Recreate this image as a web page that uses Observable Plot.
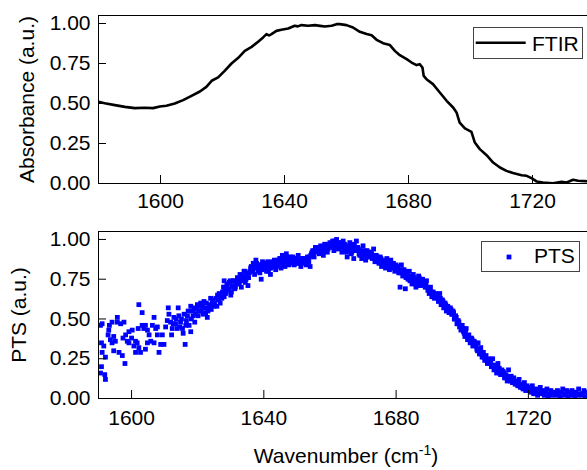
<!DOCTYPE html>
<html><head><meta charset="utf-8">
<script src="https://cdn.jsdelivr.net/npm/d3@7"></script>
<script src="https://cdn.jsdelivr.net/npm/@observablehq/plot@0.6"></script>
<style>
html,body{margin:0;padding:0;background:#fff;overflow:hidden;}
#wrap{width:587px;height:470px;overflow:hidden;position:relative;}
#wrap svg{max-width:none !important;display:block;}
</style></head><body><div id="wrap"></div>
<script>
// FTIR absorbance spectrum: [wavenumber (cm-1), absorbance]
const ftirPoints = [
[1580,0.511],[1582.0,0.502],[1585.3,0.490],[1588.5,0.479],[1591.7,0.471],[1594.9,0.473],[1597.6,0.471],[1599.8,0.481],
[1601.9,0.486],[1604.6,0.500],[1607.3,0.521],[1610.0,0.548],[1612.7,0.575],[1614.8,0.604],[1616.5,0.642],[1618.6,0.663],
[1620.7,0.704],[1622.9,0.750],[1625.0,0.784],[1627.2,0.829],[1629.4,0.854],[1631.5,0.886],[1633.1,0.913],[1634.2,0.934],
[1635.0,0.925],[1635.8,0.934],[1637.4,0.954],[1639.0,0.961],[1641.2,0.969],[1643.3,0.986],[1644.3,0.982],[1645.5,0.990],
[1647.6,0.986],[1649.8,0.990],[1651.5,0.985],[1653.0,0.981],[1655.2,0.986],[1656.8,0.996],[1657.8,0.996],[1660.0,0.990],
[1662.1,0.975],[1664.3,0.948],[1666.5,0.934],[1668.1,0.927],[1669.7,0.898],[1671.8,0.877],[1674.0,0.865],[1675.6,0.829],
[1677.2,0.802],[1679.4,0.777],[1681.0,0.756],[1682.6,0.740],[1683.6,0.746],[1684.5,0.725],[1684.9,0.673],[1685.8,0.652],
[1687.9,0.621],[1690.1,0.569],[1692.3,0.517],[1694.4,0.475],[1695.5,0.444],[1696.5,0.381],[1698.2,0.344],[1700.3,0.323],
[1701.4,0.256],[1703.0,0.215],[1705.2,0.177],[1707.3,0.131],[1709.5,0.100],[1711.6,0.079],[1713.7,0.065],[1716.5,0.052],
[1718.1,0.048],[1719.7,0.034],[1721.3,0.013],[1723.4,0.006],[1726.6,0.002],[1729.4,0.011],[1731.0,0.006],[1733.1,0.023],
[1734.7,0.017],[1736.9,0.015],[1740,0.012]
];

// PTS signal, noisy low-wavenumber part: [wavenumber, signal]
const ptsNoisy = [
[1590.6,0.46],[1590.6,0.16],[1590.9,0.35],[1590.9,0.20],[1591.1,0.47],[1591.1,0.29],[1591.6,0.33],[1591.9,0.15],
[1592.1,0.26],[1592.1,0.12],[1592.9,0.40],[1593.1,0.43],[1593.3,0.46],[1593.6,0.37],[1594.1,0.48],[1594.1,0.35],
[1594.6,0.39],[1594.6,0.30],[1595.1,0.36],[1595.7,0.51],[1595.7,0.48],[1596.2,0.29],[1596.7,0.47],[1597.2,0.27],
[1597.4,0.38],[1597.7,0.48],[1598.0,0.22],[1598.2,0.40],[1598.7,0.36],[1599.2,0.35],[1599.2,0.42],[1600.0,0.38],
[1600.2,0.43],[1600.7,0.33],[1601.2,0.36],[1601.2,0.29],[1601.7,0.35],[1602.0,0.44],[1602.2,0.32],[1602.2,0.59],
[1602.7,0.29],[1603.2,0.54],[1603.2,0.46],[1603.7,0.44],[1604.2,0.46],[1604.2,0.31],[1604.8,0.43],[1604.8,0.35],
[1605.3,0.40],[1605.8,0.36],[1606.3,0.46],[1606.8,0.51],[1606.8,0.35],[1607.3,0.44],[1607.8,0.45],[1607.8,0.40],
[1608.3,0.29],[1608.8,0.34],[1609.3,0.40],[1609.8,0.34],[1610.3,0.45],[1610.8,0.49],[1611.1,0.57],[1611.3,0.53],
[1611.8,0.48],[1612.1,0.40],[1612.3,0.44],[1612.6,0.47],[1612.8,0.51],[1613.3,0.47],[1613.5,0.50],[1613.8,0.44],
[1614.1,0.57],[1614.3,0.52],[1614.6,0.45],[1614.8,0.48],[1615.1,0.50],[1615.4,0.44],[1615.6,0.41],[1615.9,0.53],
[1616.2,0.34],[1616.4,0.46],[1616.6,0.49],[1616.9,0.52],[1617.1,0.55],[1617.4,0.46],[1617.9,0.42],[1617.9,0.58],
[1618.1,0.50],[1618.4,0.55],[1618.6,0.52],[1618.9,0.57],[1619.1,0.48],[1619.4,0.53],[1619.6,0.56],[1619.9,0.59],
[1620.1,0.52],[1620.4,0.55],[1620.6,0.58],[1620.9,0.60],[1621.1,0.55],[1621.4,0.58],[1621.6,0.53],[1621.9,0.61],
[1622.1,0.57],[1622.4,0.54],[1622.6,0.60],[1622.9,0.51],[1623.1,0.55],[1623.4,0.57],[1623.6,0.59],[1623.9,0.63],
[1624.1,0.56],[1624.4,0.60],[1624.6,0.62],[1624.9,0.58],[1625.1,0.60],[1625.5,0.63],[1625.8,0.58],[1626.0,0.65],
[1626.3,0.62],[1626.5,0.66],[1626.8,0.60],[1627.0,0.64],[1627.3,0.63],[1627.5,0.67],[1627.8,0.70],[1628.0,0.74],
[1628.0,0.64],[1628.2,0.66],[1628.3,0.69]
];

// PTS signal, dense band (first pass): [wavenumber, signal]
const ptsBand = [
[1628.4,0.66],[1628.8,0.71],[1629.2,0.68],[1629.6,0.73],[1630.0,0.65],[1630.4,0.70],[1630.8,0.74],[1631.2,0.69],[1631.6,0.72],[1632.0,0.76],
[1632.4,0.72],[1632.8,0.78],[1633.2,0.70],[1633.6,0.75],[1634.0,0.80],[1634.4,0.73],[1634.8,0.77],[1635.2,0.71],[1635.6,0.79],[1636.0,0.82],
[1636.4,0.80],[1636.8,0.85],[1637.2,0.78],[1637.6,0.87],[1638.0,0.82],[1638.4,0.84],[1638.8,0.79],[1639.2,0.75],[1639.6,0.86],[1640.0,0.83],
[1640.4,0.84],[1640.8,0.80],[1641.2,0.86],[1641.6,0.82],[1642.0,0.78],[1642.4,0.85],[1642.8,0.83],[1643.2,0.87],[1643.6,0.81],[1644.0,0.84],
[1644.4,0.85],[1644.8,0.88],[1645.2,0.82],[1645.6,0.90],[1646.0,0.86],[1646.4,0.83],[1646.8,0.91],[1647.2,0.87],[1647.6,0.84],[1648.0,0.89],
[1648.4,0.86],[1648.8,0.89],[1649.2,0.84],[1649.6,0.88],[1650.0,0.85],[1650.4,0.90],[1650.8,0.87],[1651.2,0.83],[1651.6,0.88],[1652.0,0.86],
[1652.4,0.87],[1652.8,0.84],[1653.2,0.89],[1653.6,0.86],[1654.0,0.83],[1654.4,0.91],[1654.8,0.93],[1655.2,0.89],[1655.6,0.95],[1656.0,0.92],
[1656.4,0.94],[1656.8,0.91],[1657.2,0.96],[1657.6,0.93],[1658.0,0.90],[1658.4,0.97],[1658.8,0.94],[1659.2,0.92],[1659.6,0.96],[1660.0,0.98],
[1660.4,0.95],[1660.8,0.99],[1661.2,0.93],[1661.6,0.97],[1662.0,1.00],[1662.4,0.94],[1662.8,0.98],[1663.2,0.96],[1663.6,0.92],[1664.0,0.99],
[1664.4,0.97],[1664.8,0.93],[1665.2,0.89],[1665.6,0.95],[1666.0,0.98],[1666.4,0.91],[1666.8,0.96],[1667.2,0.88],[1667.6,0.94],[1668.0,0.99],
[1668.4,0.95],[1668.8,0.91],[1669.2,0.93],[1669.6,0.88],[1670.0,0.96],[1670.4,0.90],[1670.8,0.87],[1671.2,0.93],[1671.6,0.91],[1672.0,0.89],
[1672.4,0.92],[1672.8,0.88],[1673.2,0.94],[1673.6,0.86],[1674.0,0.90],[1674.4,0.87],[1674.8,0.85],[1675.2,0.89],[1675.6,0.83],[1676.0,0.87],
[1676.4,0.86],[1676.8,0.82],[1677.2,0.88],[1677.6,0.84],[1678.0,0.81],[1678.4,0.87],[1678.8,0.83],[1679.2,0.85],[1679.6,0.80],[1680.0,0.84],
[1680.4,0.82],[1680.8,0.79],[1681.2,0.70],[1681.6,0.84],[1682.0,0.77],[1682.4,0.81],[1682.8,0.69],[1683.2,0.78],[1683.6,0.75],[1684.0,0.80],
[1684.4,0.76],[1684.8,0.72],[1685.2,0.78],[1685.6,0.74],[1686.0,0.70],[1686.4,0.75],[1686.8,0.77],[1687.2,0.71],[1687.6,0.73],[1688.0,0.75],
[1688.4,0.72],[1688.8,0.70],[1689.2,0.74],[1689.6,0.68],[1690.0,0.66],[1690.4,0.70],[1690.8,0.64],[1691.2,0.67],[1691.6,0.63],[1692.0,0.66],
[1692.4,0.64],[1692.8,0.61],[1693.2,0.66],[1693.6,0.59],[1694.0,0.62],[1694.4,0.57],[1694.8,0.60],[1695.2,0.55],[1695.6,0.58],[1696.0,0.54],
[1696.4,0.57],[1696.8,0.53],[1697.2,0.55],[1697.6,0.50],[1698.0,0.52],[1698.4,0.47],[1698.8,0.49],[1699.2,0.45],[1699.6,0.43],[1700.0,0.46],
[1700.4,0.42],[1700.8,0.39],[1701.2,0.44],[1701.6,0.37],[1702.0,0.40],[1702.4,0.35],[1702.8,0.38],[1703.2,0.33],[1703.6,0.36],[1704.0,0.34],
[1704.4,0.31],[1704.8,0.35],[1705.2,0.28],[1705.6,0.32],[1706.0,0.26],[1706.4,0.29],[1706.8,0.24],[1707.2,0.27],[1707.6,0.22],[1708.0,0.25],
[1708.4,0.23],[1708.8,0.20],[1709.2,0.25],[1709.6,0.18],[1710.0,0.21],[1710.4,0.16],[1710.8,0.22],[1711.2,0.19],[1711.6,0.15],[1712.0,0.18],
[1712.4,0.17],[1712.8,0.13],[1713.2,0.15],[1713.6,0.11],[1714.0,0.18],[1714.4,0.12],[1714.8,0.14],[1715.2,0.10],[1715.6,0.13],[1716.0,0.09],
[1716.4,0.11],[1716.8,0.08],[1717.2,0.12],[1717.6,0.07],[1718.0,0.09],[1718.4,0.06],[1718.8,0.10],[1719.2,0.05],[1719.6,0.08],[1720.0,0.06],
[1720.4,0.07],[1720.8,0.04],[1721.2,0.08],[1721.6,0.03],[1722.0,0.05],[1722.4,0.06],[1722.8,0.02],[1723.2,0.04],[1723.6,0.07],[1724.0,0.03],
[1724.4,0.05],[1724.8,0.02],[1725.2,0.04],[1725.6,0.06],[1726.0,0.01],[1726.4,0.03],[1726.8,0.05],[1727.2,0.02],[1727.6,0.04],[1728.0,0.03],
[1728.4,0.02],[1728.8,0.05],[1729.2,0.03],[1729.6,0.01],[1730.0,0.04],[1730.4,0.06],[1730.8,0.02],[1731.2,0.03],[1731.6,0.05],[1732.0,0.01],
[1732.4,0.04],[1732.8,0.02],[1733.2,0.05],[1733.6,0.03],[1734.0,0.01],[1734.4,0.04],[1734.8,0.02],[1735.2,0.06],[1735.6,0.03],[1736.0,0.02],
[1736.4,0.03],[1736.8,0.05],[1737.2,0.01],[1737.6,0.04],[1738.0,0.02],[1738.4,0.03],[1738.8,0.05],[1739.2,0.02],[1739.6,0.04],[1740.0,0.03]
];

// PTS signal, dense band (interleaved second pass): [wavenumber, signal]
const ptsBand2 = [
[1628.2,0.70],[1628.6,0.67],[1629.0,0.72],[1629.4,0.69],[1629.8,0.74],[1630.2,0.67],[1630.6,0.71],[1631.0,0.74],[1631.4,0.70],[1631.8,0.73],
[1632.2,0.75],[1632.6,0.73],[1633.0,0.77],[1633.4,0.74],[1633.8,0.77],[1634.2,0.80],[1634.6,0.75],[1635.0,0.78],[1635.4,0.76],[1635.8,0.80],
[1636.2,0.83],[1636.6,0.81],[1637.0,0.84],[1637.4,0.83],[1637.8,0.85],[1638.2,0.80],[1638.6,0.82],[1639.0,0.84],[1639.4,0.81],[1639.8,0.85],
[1640.2,0.82],[1640.6,0.85],[1641.0,0.83],[1641.4,0.80],[1641.8,0.84],[1642.2,0.82],[1642.6,0.86],[1643.0,0.84],[1643.4,0.85],[1643.8,0.83],
[1644.2,0.87],[1644.6,0.85],[1645.0,0.88],[1645.4,0.86],[1645.8,0.84],[1646.2,0.88],[1646.6,0.86],[1647.0,0.89],[1647.4,0.86],[1647.8,0.87],
[1648.2,0.87],[1648.6,0.85],[1649.0,0.87],[1649.4,0.86],[1649.8,0.88],[1650.2,0.86],[1650.6,0.85],[1651.0,0.87],[1651.4,0.86],[1651.8,0.88],
[1652.2,0.85],[1652.6,0.88],[1653.0,0.85],[1653.4,0.87],[1653.8,0.89],[1654.2,0.90],[1654.6,0.92],[1655.0,0.91],[1655.4,0.93],[1655.8,0.94],
[1656.2,0.93],[1656.6,0.95],[1657.0,0.94],[1657.4,0.92],[1657.8,0.95],[1658.2,0.93],[1658.6,0.96],[1659.0,0.95],[1659.4,0.94],[1659.8,0.97],
[1660.2,0.97],[1660.6,0.96],[1661.0,0.95],[1661.4,0.99],[1661.8,0.97],[1662.2,0.96],[1662.6,0.95],[1663.0,0.98],[1663.4,0.97],[1663.8,0.95],
[1664.2,0.95],[1664.6,0.96],[1665.0,0.92],[1665.4,0.93],[1665.8,0.96],[1666.2,0.94],[1666.6,0.92],[1667.0,0.95],[1667.4,0.97],[1667.8,0.93],
[1668.2,0.93],[1668.6,0.94],[1669.0,0.90],[1669.4,0.92],[1669.8,0.91],[1670.2,0.93],[1670.6,0.92],[1671.0,0.90],[1671.4,0.89],[1671.8,0.92],
[1672.2,0.90],[1672.6,0.91],[1673.0,0.89],[1673.4,0.90],[1673.8,0.88],[1674.2,0.89],[1674.6,0.87],[1675.0,0.86],[1675.4,0.88],[1675.8,0.85],
[1676.2,0.84],[1676.6,0.85],[1677.0,0.83],[1677.4,0.86],[1677.8,0.84],[1678.2,0.82],[1678.6,0.85],[1679.0,0.83],[1679.4,0.82],[1679.8,0.83],
[1680.2,0.81],[1680.6,0.83],[1681.0,0.80],[1681.4,0.79],[1681.8,0.81],[1682.2,0.78],[1682.6,0.80],[1683.0,0.76],[1683.4,0.79],[1683.8,0.77],
[1684.2,0.74],[1684.6,0.76],[1685.0,0.73],[1685.4,0.76],[1685.8,0.72],[1686.2,0.73],[1686.6,0.74],[1687.0,0.76],[1687.4,0.72],[1687.8,0.74],
[1688.2,0.73],[1688.6,0.71],[1689.0,0.72],[1689.4,0.70],[1689.8,0.69],[1690.2,0.68],[1690.6,0.67],[1691.0,0.65],[1691.4,0.66],[1691.8,0.64],
[1692.2,0.65],[1692.6,0.63],[1693.0,0.62],[1693.4,0.63],[1693.8,0.60],[1694.2,0.61],[1694.6,0.58],[1695.0,0.59],[1695.4,0.56],[1695.8,0.57],
[1696.2,0.55],[1696.6,0.56],[1697.0,0.53],[1697.4,0.54],[1697.8,0.50],[1698.2,0.51],[1698.6,0.47],[1699.0,0.48],[1699.4,0.46],[1699.8,0.44],
[1700.2,0.44],[1700.6,0.41],[1701.0,0.42],[1701.4,0.39],[1701.8,0.38],[1702.2,0.37],[1702.6,0.36],[1703.0,0.37],[1703.4,0.34],[1703.8,0.35],
[1704.2,0.33],[1704.6,0.30],[1705.0,0.31],[1705.4,0.29],[1705.8,0.28],[1706.2,0.27],[1706.6,0.26],[1707.0,0.25],[1707.4,0.24],[1707.8,0.23],
[1708.2,0.22],[1708.6,0.24],[1709.0,0.21],[1709.4,0.20],[1709.8,0.19],[1710.2,0.18],[1710.6,0.20],[1711.0,0.17],[1711.4,0.16],[1711.8,0.17],
[1712.2,0.15],[1712.6,0.16],[1713.0,0.13],[1713.4,0.14],[1713.8,0.12],[1714.2,0.13],[1714.6,0.11],[1715.0,0.12],[1715.4,0.11],[1715.8,0.10],
[1716.2,0.10],[1716.6,0.09],[1717.0,0.10],[1717.4,0.08],[1717.8,0.08],[1718.2,0.07],[1718.6,0.08],[1719.0,0.07],[1719.4,0.06],[1719.8,0.07],
[1720.2,0.05],[1720.6,0.06],[1721.0,0.05],[1721.4,0.04],[1721.8,0.04],[1722.2,0.05],[1722.6,0.03],[1723.0,0.05],[1723.4,0.04],[1723.8,0.05]
];

const xTicks = [1600, 1640, 1680, 1720];
const yTicks = [0, 0.25, 0.5, 0.75, 1.0];
const topXDomain = [1580, 1740];
const bottomXDomain = [1590, 1740];
const yDomain = [0, 1.05];

const FONT = "'Liberation Sans', Arial, Helvetica, sans-serif";
const W = 594, ML = 98;
const baseStyle = {fontFamily: FONT, fontSize: "21px", color: "black", background: "white", maxWidth: "none"};

const topChart = Plot.plot({
  width: W, height: 215, marginLeft: ML, marginRight: 0, marginTop: 15, marginBottom: 32,
  style: baseStyle,
  x: {domain: topXDomain},
  y: {domain: yDomain},
  marks: [
    Plot.line(ftirPoints, {x: d => d[0], y: d => d[1], stroke: "black", strokeWidth: 2.6, clip: true}),
    Plot.frame({stroke: "black"}),
    Plot.ruleY(yTicks, {y: d => d, insetRight: W - ML - 8, stroke: "black"}),
    Plot.ruleX(xTicks, {x: d => d, insetTop: 160, stroke: "black"}),
    Plot.axisX(xTicks, {tickSize: 0, tickPadding: 10, tickFormat: d => String(d), label: null}),
    Plot.axisY(yTicks, {tickSize: 0, tickPadding: 8, tickFormat: d => d.toFixed(2), label: null}),
    Plot.text(["Absorbance (a.u.)"], {text: d => d, frameAnchor: "left", textAnchor: "middle", lineAnchor: "middle", rotate: -90, dx: -71.4, fontSize: 21})
  ]
});

const ptsAll = ptsNoisy.concat(ptsBand, ptsBand2);

const bottomChart = Plot.plot({
  width: W, height: 255, marginLeft: ML, marginRight: 0, marginTop: 16, marginBottom: 72,
  style: baseStyle,
  x: {domain: bottomXDomain},
  y: {domain: yDomain},
  marks: [
    Plot.dot(ptsAll, {x: d => d[0], y: d => d[1], symbol: "square", r: 2.7, fill: "#0000ff", clip: true}),
    Plot.frame({stroke: "black"}),
    Plot.ruleY(yTicks, {y: d => d, insetRight: W - ML - 8, stroke: "black"}),
    Plot.ruleX(xTicks, {x: d => d, insetTop: 159, stroke: "black"}),
    Plot.axisX(xTicks, {tickSize: 0, tickPadding: 12, tickFormat: d => String(d), label: null}),
    Plot.axisY(yTicks, {tickSize: 0, tickPadding: 8, tickFormat: d => d.toFixed(2), label: null}),
    Plot.text(["PTS (a.u.)"], {text: d => d, frameAnchor: "left", textAnchor: "middle", lineAnchor: "middle", rotate: -90, dx: -78.8, fontSize: 21})
  ]
});

const wrap = document.getElementById("wrap");
wrap.appendChild(topChart);
wrap.appendChild(bottomChart);

// Legend: FTIR
const st = d3.select(topChart);
const lg1 = st.append("g");
lg1.append("rect").attr("x", 473.5).attr("y", 27.5).attr("width", 109).attr("height", 31)
  .attr("fill", "white").attr("stroke", "#444").attr("stroke-width", 1);
lg1.append("line").attr("x1", 475.7).attr("x2", 525.7).attr("y1", 42.7).attr("y2", 42.7)
  .attr("stroke", "black").attr("stroke-width", 2.6);
lg1.append("text").attr("x", 532).attr("y", 50.7).attr("text-anchor", "start").attr("font-size", 21)
  .attr("font-family", FONT).attr("fill", "black").text("FTIR");

// Legend: PTS
const sb = d3.select(bottomChart);
const lg2 = sb.append("g");
lg2.append("rect").attr("x", 481.5).attr("y", 26.5).attr("width", 98).attr("height", 30)
  .attr("fill", "white").attr("stroke", "#444").attr("stroke-width", 1);
lg2.append("rect").attr("x", 506.6).attr("y", 39.6).attr("width", 4.8).attr("height", 4.8).attr("fill", "#0000ff");
lg2.append("text").attr("x", 534).attr("y", 48).attr("text-anchor", "start").attr("font-size", 21)
  .attr("font-family", FONT).attr("fill", "black").text("PTS");

// X-axis title with superscript
const xt = sb.append("text").attr("x", 346).attr("y", 248).attr("text-anchor", "middle")
  .attr("font-size", 21).attr("font-family", FONT).attr("fill", "black");
xt.append("tspan").text("Wavenumber (cm");
xt.append("tspan").attr("font-size", 14).attr("dy", -8).text("-1");
xt.append("tspan").attr("font-size", 21).attr("dy", 8).text(")");
</script>
</body></html>
